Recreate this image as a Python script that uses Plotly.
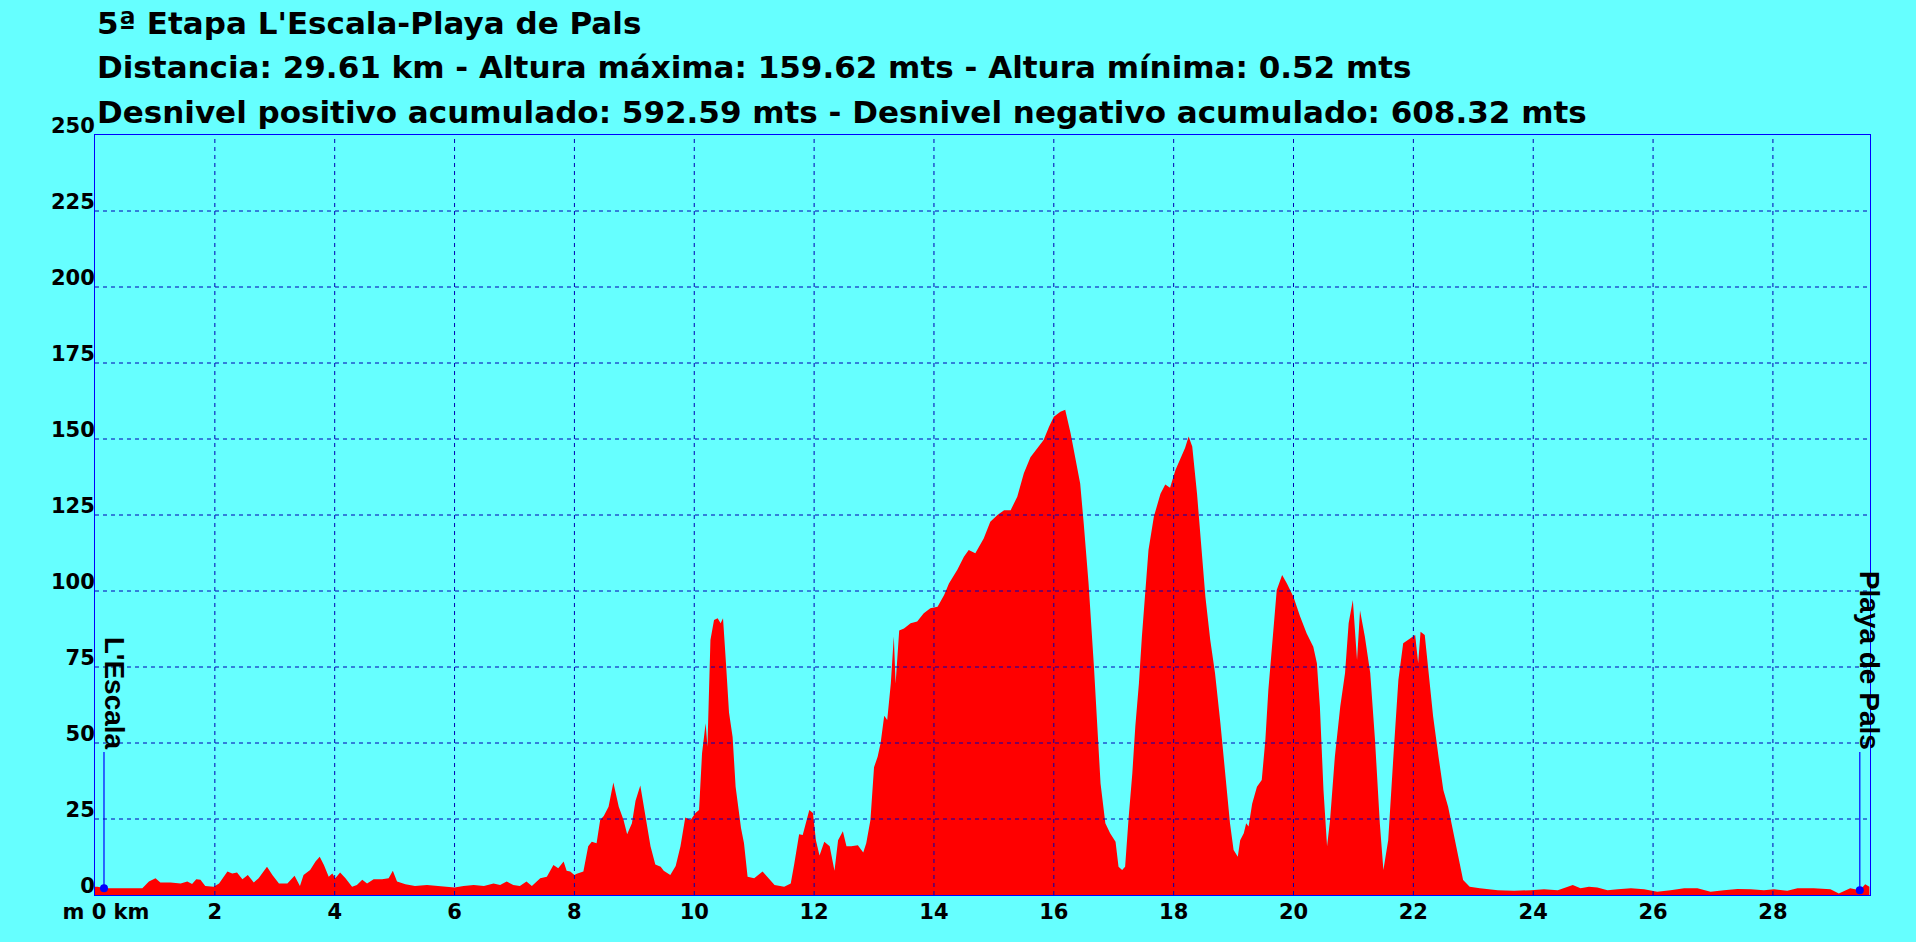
import plotly.graph_objects as go

# Elevation profile (distance in km, altitude in m)
dist_km = [
    0.00, 0.04, 0.18, 0.38, 0.79, 0.90, 1.01, 1.09, 1.26, 1.43, 1.54, 1.62, 1.69, 1.76, 1.84, 1.98,
    2.07, 2.21, 2.29, 2.37, 2.46, 2.55, 2.65, 2.73, 2.87, 2.96, 3.07, 3.21, 3.33, 3.42, 3.48, 3.59,
    3.68, 3.75, 3.82, 3.90, 3.96, 4.01, 4.09, 4.18, 4.29, 4.37, 4.46, 4.54, 4.65, 4.79, 4.90, 4.97,
    5.04, 5.18, 5.34, 5.54, 5.71, 5.87, 6.00, 6.15, 6.32, 6.49, 6.65, 6.76, 6.87, 6.98, 7.09, 7.20,
    7.29, 7.43, 7.54, 7.65, 7.73, 7.82, 7.87, 7.93, 8.00, 8.04, 8.15, 8.23, 8.29, 8.37, 8.43, 8.49,
    8.57, 8.65, 8.74, 8.82, 8.88, 8.96, 9.02, 9.10, 9.18, 9.27, 9.35, 9.44, 9.49, 9.60, 9.69, 9.77,
    9.85, 9.94, 10.02, 10.08, 10.13, 10.19, 10.22, 10.27, 10.33, 10.39, 10.44, 10.48, 10.53, 10.58,
    10.64, 10.69, 10.78, 10.83, 10.89, 11.00, 11.14, 11.22, 11.34, 11.50, 11.61, 11.67, 11.75, 11.81,
    11.92, 11.98, 12.03, 12.09, 12.17, 12.26, 12.34, 12.40, 12.48, 12.54, 12.62, 12.73, 12.82, 12.87,
    12.94, 13.00, 13.06, 13.11, 13.17, 13.22, 13.28, 13.33, 13.36, 13.42, 13.50, 13.61, 13.72, 13.83,
    13.94, 14.06, 14.17, 14.25, 14.39, 14.50, 14.58, 14.69, 14.83, 14.94, 15.06, 15.17, 15.28, 15.39,
    15.50, 15.61, 15.72, 15.83, 15.92, 16.00, 16.11, 16.19, 16.28, 16.36, 16.44, 16.50, 16.58, 16.67,
    16.72, 16.78, 16.86, 16.94, 17.03, 17.08, 17.14, 17.19, 17.25, 17.31, 17.36, 17.42, 17.47, 17.53,
    17.58, 17.67, 17.78, 17.86, 17.94, 18.03, 18.11, 18.19, 18.25, 18.31, 18.39, 18.44, 18.53, 18.61,
    18.69, 18.78, 18.83, 18.89, 18.94, 19.00, 19.07, 19.11, 19.17, 19.21, 19.25, 19.31, 19.39, 19.47,
    19.53, 19.58, 19.64, 19.72, 19.81, 19.89, 20.00, 20.11, 20.22, 20.33, 20.39, 20.44, 20.50, 20.56,
    20.61, 20.69, 20.78, 20.86, 20.92, 20.99, 21.06, 21.11, 21.19, 21.28, 21.36, 21.44, 21.50, 21.58,
    21.67, 21.75, 21.83, 21.94, 22.03, 22.08, 22.12, 22.19, 22.25, 22.33, 22.42, 22.50, 22.58, 22.67,
    22.75, 22.83, 22.94, 23.11, 23.41, 23.68, 23.96, 24.18, 24.41, 24.66, 24.79, 24.93, 25.07, 25.24,
    25.41, 25.63, 25.85, 26.07, 26.29, 26.52, 26.74, 26.96, 27.18, 27.41, 27.63, 27.85, 28.02, 28.24,
    28.41, 28.68, 28.96, 29.10, 29.29, 29.45, 29.54, 29.61,
]
alt_m = [
    2.7, 2.7, 2.2, 2.2, 2.2, 4.4, 5.5, 4.1, 4.1, 3.8, 4.4, 3.6, 5.2, 5.0, 3.0, 2.7,
    3.8, 7.7, 7.1, 7.4, 5.2, 6.6, 4.1, 5.5, 9.3, 6.6, 3.8, 3.8, 6.3, 3.0, 6.6, 8.2,
    11.0, 12.6, 9.9, 6.0, 7.1, 5.5, 7.4, 5.5, 2.7, 3.3, 5.0, 3.8, 5.2, 5.2, 5.5, 8.0,
    4.4, 3.5, 3.0, 3.3, 3.0, 2.7, 2.5, 3.0, 3.3, 3.0, 3.8, 3.3, 4.4, 3.3, 3.0, 4.4,
    3.0, 5.5, 6.0, 9.9, 8.8, 11.0, 8.0, 7.7, 6.6, 7.0, 7.7, 16.0, 17.5, 17.0, 24.7, 26.0,
    29.0, 37.0, 29.0, 24.7, 20.0, 23.6, 31.0, 36.0, 27.0, 16.0, 10.0, 9.3, 8.0, 6.6, 9.5, 16.0,
    25.5, 24.7, 27.0, 28.0, 46.6, 56.5, 48.8, 83.9, 90.5, 91.0, 89.4, 91.0, 76.0, 60.0,
    52.0, 35.6, 22.0, 17.0, 6.0, 5.5, 7.7, 6.0, 3.3, 2.7, 3.8, 10.4, 20.0, 19.7,
    28.0, 27.0, 18.0, 13.0, 17.5, 16.0, 8.0, 18.0, 21.0, 16.0, 16.0, 16.4, 14.0, 17.0,
    24.7, 42.0, 45.5, 50.0, 59.0, 57.6, 69.6, 85.0, 69.6, 87.0, 87.7, 89.4, 90.0, 92.7,
    94.3, 94.8, 98.7, 102.5, 107.0, 111.3, 113.5, 112.4, 117.3, 122.8, 125.0, 126.6, 126.6, 131.0,
    138.7, 144.0, 147.0, 149.7, 154.0, 157.3, 159.0, 159.62, 151.9, 144.0, 135.4, 122.0, 102.5, 75.0,
    56.5, 36.7, 23.6, 20.3, 17.5, 9.3, 8.2, 9.3, 25.8, 40.0, 55.4, 69.6, 85.0, 100.3,
    113.5, 124.5, 132.0, 135.0, 134.0, 139.8, 143.6, 147.0, 150.8, 147.5, 132.0, 120.0, 98.0, 84.0,
    73.0, 56.5, 45.5, 32.3, 23.6, 14.8, 12.6, 18.0, 20.3, 23.6, 22.5, 30.0, 35.6, 37.8,
    51.0, 67.4, 82.8, 100.3, 105.3, 102.5, 98.0, 91.6, 86.0, 81.7, 76.2, 62.0, 34.5, 16.0,
    24.7, 45.5, 62.0, 73.0, 89.4, 97.0, 77.3, 93.6, 85.0, 73.0, 51.0, 23.6, 8.2, 18.0,
    46.6, 70.7, 82.8, 84.4, 85.5, 76.2, 86.6, 85.5, 73.0, 58.7, 45.5, 34.5, 29.0, 20.3,
    11.5, 4.9, 2.7, 2.2, 1.6, 1.4, 1.6, 1.9, 1.6, 3.3, 2.2, 2.7, 2.5, 1.6,
    1.9, 2.2, 1.9, 1.1, 1.6, 2.2, 2.2, 1.1, 1.6, 2.0, 1.9, 1.6, 1.9, 1.4,
    2.2, 2.2, 1.9, 0.52, 2.2, 1.6, 3.5, 2.7,
]

# Start / finish waypoints
wp_names = ["L'Escala", "Playa de Pals"]
wp_km = [0.15, 29.45]
wp_alt = [2.2, 1.6]
wp_label_alt = 47

title_lines = [
    "5ª Etapa L'Escala-Playa de Pals",
    "Distancia: 29.61 km - Altura máxima: 159.62 mts - Altura mínima: 0.52 mts",
    "Desnivel positivo acumulado: 592.59 mts - Desnivel negativo acumulado: 608.32 mts",
]

x_ticks = list(range(0, 30, 2))
x_ticktext = ["\u00a0\u00a0\u00a0m 0 km"] + [str(v) for v in x_ticks[1:]]
y_ticks = list(range(0, 251, 25))

BG = '#66FFFF'
GRID = '#0000B4'
BLUE = '#0000FF'
FONT = 'DejaVu Sans, Verdana, sans-serif'
FONT_WP = 'Liberation Sans, Arial, sans-serif'

fig = go.Figure()

fig.add_trace(go.Scatter(
    x=dist_km, y=alt_m,
    mode='lines', fill='tozeroy',
    fillcolor='#FF0000', line=dict(width=0, color='#FF0000'),
    hoverinfo='x+y', showlegend=False,
))

for name, km, alt in zip(wp_names, wp_km, wp_alt):
    fig.add_trace(go.Scatter(
        x=[km, km], y=[alt, wp_label_alt],
        mode='lines', line=dict(color=BLUE, width=1.2),
        showlegend=False, hoverinfo='skip',
    ))
    fig.add_trace(go.Scatter(
        x=[km], y=[alt], mode='markers',
        marker=dict(color=BLUE, size=8),
        showlegend=False, name=name,
    ))
    fig.add_annotation(
        x=km, y=wp_label_alt, xref='x', yref='y',
        text=name, textangle=90, showarrow=False,
        xanchor='center', yanchor='bottom', xshift=10,
        font=dict(family=FONT_WP, size=28, color='black', weight='bold'),
    )

# dashed grid drawn above the fill, like the original
for v in x_ticks[1:]:
    fig.add_shape(type='line', xref='x', yref='paper', x0=v, x1=v, y0=0, y1=1,
                  line=dict(color=GRID, width=1, dash='4px,4px'), layer='above')
for v in y_ticks[1:-1]:
    fig.add_shape(type='line', xref='paper', yref='y', x0=0, x1=1, y0=v, y1=v,
                  line=dict(color=GRID, width=1, dash='4px,4px'), layer='above')

for i, line in enumerate(title_lines):
    fig.add_annotation(
        x=0, y=[1.147, 1.089, 1.030][i], xref='paper', yref='paper',
        text=line, showarrow=False, xanchor='left', yanchor='middle',
        font=dict(family=FONT, size=31, color='black', weight='bold'),
    )

fig.update_xaxes(
    range=[0, 29.62], tickvals=x_ticks, ticktext=x_ticktext,
    showgrid=False, zeroline=False,
    showline=True, mirror=True, linecolor=BLUE, linewidth=1,
    ticks='', ticklabelstandoff=-2,
    tickfont=dict(family=FONT, size=21, color='black', weight='bold'),
    layer='above traces', fixedrange=True,
)
fig.update_yaxes(
    range=[0, 250], tickvals=y_ticks,
    showgrid=False, zeroline=False,
    showline=True, mirror=True, linecolor=BLUE, linewidth=1,
    ticks='', ticklabelstandoff=-5, ticklabelshift=-9,
    tickfont=dict(family=FONT, size=21, color='black', weight='bold'),
    layer='above traces', fixedrange=True,
)

fig.update_layout(
    width=1916, height=942,
    margin=dict(l=95, r=46, t=135, b=47),
    paper_bgcolor=BG, plot_bgcolor=BG,
    showlegend=False,
)

fig.write_html("out.html", config={'displayModeBar': False},
               post_script="document.body.style.margin='0';")
